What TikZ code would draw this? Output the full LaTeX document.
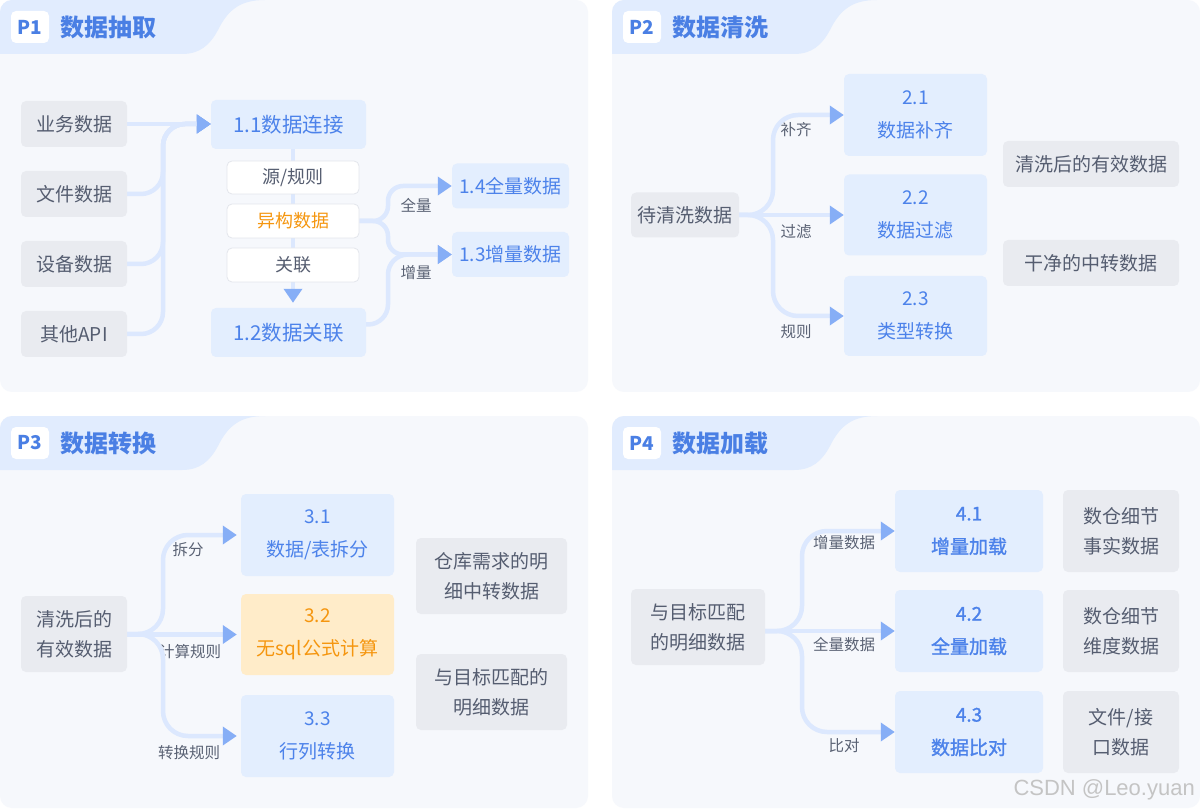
\documentclass[tikz,border=0pt]{standalone}
\usepackage{fontspec}
\setmainfont{Noto Sans CJK SC}
\newfontfamily\wmfont{Liberation Sans}
\newfontfamily\medfont[FakeBold=1.3]{Noto Sans CJK SC}
\usetikzlibrary{arrows.meta}
\definecolor{panelbg}{HTML}{F6F8FC}
\definecolor{hdrbg}{HTML}{E1ECFE}
\definecolor{titleblue}{HTML}{4A7FE4}
\definecolor{bluefill}{HTML}{E3EEFE}
\definecolor{bluetext}{HTML}{4C82EA}
\definecolor{grayfill}{HTML}{E9EBF0}
\definecolor{graytext}{HTML}{555D70}
\definecolor{labeltext}{HTML}{5A6274}
\definecolor{connc}{HTML}{DCE8FE}
\definecolor{arrowc}{HTML}{86AEF6}
\definecolor{orangefill}{HTML}{FFECC9}
\definecolor{orangetext}{HTML}{F5960F}
\definecolor{whiteborder}{HTML}{E3E6EC}
\pgfdeclarelayer{bglayer}
\pgfdeclarelayer{connlayer}
\pgfsetlayers{bglayer,connlayer,main}
\tikzset{
  box/.style={rounded corners=5pt, inner sep=0pt, align=center},
  graybox/.style={box, fill=grayfill, text=graytext, font=\fontsize{19}{30}\selectfont},
  bluebox/.style={box, fill=bluefill, text=bluetext, font=\fontsize{19}{33}\selectfont},
  bigbluebox/.style={bluebox, font=\fontsize{20.5}{33}\selectfont},
  boldbluebox/.style={bluebox, font=\medfont\fontsize{19}{33}\selectfont},
  orangebox/.style={box, fill=orangefill, text=orangetext, font=\fontsize{19}{33}\selectfont},
  whitebox/.style={box, fill=white, draw=whiteborder, line width=0.8pt, text=graytext, font=\fontsize{18}{20}\selectfont},
  lbl/.style={text=labeltext, font=\fontsize{15.5}{18}\selectfont, inner sep=0pt},
  conn/.style={draw=connc, line width=4.5pt},
  arr/.style={conn, -{Triangle[length=14pt,width=18pt,color=arrowc]}},
  hdrlabel/.style={fill=white, rounded corners=5pt, minimum width=38pt, minimum height=32pt, inner sep=0pt, text=titleblue, font=\bfseries\fontsize{19}{20}\selectfont},
  hdrtitle/.style={anchor=west, inner sep=0pt, text=titleblue, font=\bfseries\fontsize{24}{26}\selectfont},
}
\newcommand\panelhead[4]{%
  \begin{scope}[shift={(#1,#2)}]
    \begin{pgfonlayer}{bglayer}
      \fill[panelbg, rounded corners=12pt] (0,0) rectangle (588,392);
      \begin{scope}
        \clip[rounded corners=12pt] (0,0) rectangle (588,392);
        \fill[hdrbg] (0,54) -- (0,0) -- (265,0) .. controls (240,0) and (228,10) .. (218,30) .. controls (210,45) and (200,54) .. (182,54) -- cycle;
      \end{scope}
    \end{pgfonlayer}
    \node[hdrlabel] (#3box) at (30,27) {#3};
    \node[hdrtitle] (#3title) at (60,27) {#4};
  \end{scope}}
\begin{document}
\begin{tikzpicture}[x=1pt,y=-1pt]
\useasboundingbox (0,0) rectangle (1200,810);
\begin{pgfonlayer}{bglayer}
  \fill[white] (0,0) rectangle (1200,810);
\end{pgfonlayer}
\panelhead{0}{0}{P1}{数据抽取}
\panelhead{612}{0}{P2}{数据清洗}
\panelhead{0}{416}{P3}{数据转换}
\panelhead{612}{416}{P4}{数据加载}

% ---------- P1 ----------
\node[graybox, minimum width=106pt, minimum height=46pt] (ywsj) at (74,124) {业务数据};
\node[graybox, minimum width=106pt, minimum height=46pt] (wjsj) at (74,194) {文件数据};
\node[graybox, minimum width=106pt, minimum height=46pt] (sbsj) at (74,264) {设备数据};
\node[graybox, minimum width=106pt, minimum height=46pt] (qtapi) at (74,334) {其他API};
\node[bigbluebox, minimum width=155pt, minimum height=49pt] (c11) at (288.5,124.5) {1.1数据连接};
\node[whitebox, minimum width=132pt, minimum height=33pt] (yuan) at (293,177.5) {源/规则};
\node[whitebox, minimum width=132pt, minimum height=34pt, text=orangetext] (yigou) at (293,221) {异构数据};
\node[whitebox, minimum width=132pt, minimum height=34pt] (guanlian) at (293,265) {关联};
\node[bigbluebox, minimum width=155pt, minimum height=49pt] (c12) at (288.5,332.5) {1.2数据关联};
\node[bluebox, minimum width=117pt, minimum height=45pt] (c14) at (510.5,186) {1.4全量数据};
\node[bluebox, minimum width=117pt, minimum height=45pt] (c13) at (510.5,254.5) {1.3增量数据};
\coordinate (t1) at (163,0);
\coordinate (t1b) at (388,0);

% ---------- P2 ----------
\node[graybox, minimum width=108pt, minimum height=45pt] (dqx) at (685,215) {待清洗数据};
\node[bluebox, minimum width=143pt, minimum height=82pt] (c21) at (915.5,115) {2.1\\数据补齐};
\node[bluebox, minimum width=143pt, minimum height=81pt] (c22) at (915.5,215) {2.2\\数据过滤};
\node[bluebox, minimum width=143pt, minimum height=80pt] (c23) at (915.5,316) {2.3\\类型转换};
\node[graybox, minimum width=176pt, minimum height=46pt] (qxh) at (1091,164) {清洗后的有效数据};
\node[graybox, minimum width=176pt, minimum height=46pt] (gjd) at (1091,263) {干净的中转数据};
\coordinate (t2) at (773,0);

% ---------- P3 ----------
\node[graybox, minimum width=106pt, minimum height=76pt] (qxh3) at (74,634) {清洗后的\\有效数据};
\node[bluebox, minimum width=153pt, minimum height=82pt] (c31) at (317.5,535) {3.1\\数据/表拆分};
\node[orangebox, minimum width=153pt, minimum height=81pt] (c32) at (317.5,634.5) {3.2\\无sql公式计算};
\node[bluebox, minimum width=153pt, minimum height=82pt] (c33) at (317.5,736) {3.3\\行列转换};
\node[graybox, minimum width=151pt, minimum height=76pt] (ck) at (491.5,576) {仓库需求的明\\细中转数据};
\node[graybox, minimum width=151pt, minimum height=76pt] (ymb) at (491.5,692) {与目标匹配的\\明细数据};
\coordinate (t3) at (163,0);

% ---------- P4 ----------
\node[graybox, minimum width=134pt, minimum height=76pt] (ymb4) at (698,627) {与目标匹配\\的明细数据};
\node[boldbluebox, minimum width=148pt, minimum height=82pt] (c41) at (969,531) {4.1\\增量加载};
\node[boldbluebox, minimum width=148pt, minimum height=82pt] (c42) at (969,631) {4.2\\全量加载};
\node[boldbluebox, minimum width=148pt, minimum height=82pt] (c43) at (969,732) {4.3\\数据比对};
\node[graybox, minimum width=116pt, minimum height=82pt] (f1) at (1121,531) {数仓细节\\事实数据};
\node[graybox, minimum width=116pt, minimum height=82pt] (f2) at (1121,631) {数仓细节\\维度数据};
\node[graybox, minimum width=116pt, minimum height=82pt] (f3) at (1121,732) {文件/接\\口数据};
\coordinate (t4) at (802,0);

\node[font=\wmfont\fontsize{22}{24}\selectfont, text=black!23, anchor=east, inner sep=0pt] (wm) at (1195,790) {CSDN @Leo.yuan};

\begin{pgfonlayer}{connlayer}
  % labels
  \node[lbl] (lq) at (416,205) {全量};
  \node[lbl] (lz) at (416,273) {增量};
  \node[lbl] (lbq) at (796,130) {补齐};
  \node[lbl] (lgl) at (796,232) {过滤};
  \node[lbl] (lgz) at (796,332) {规则};
  \node[lbl] (lcf) at (188,550) {拆分};
  \node[lbl] (ljs) at (190,652) {计算规则};
  \node[lbl] (lzh) at (189,753) {转换规则};
  \node[lbl] (lzl) at (844,543) {增量数据};
  \node[lbl] (lql) at (844,645) {全量数据};
  \node[lbl] (lbd) at (844,746) {比对};
  % P1
  \draw[arr] (ywsj.east) -- (ywsj.east -| c11.west);
  \draw[arr, rounded corners=22pt] (wjsj.east) -- (wjsj.east -| t1) -- (ywsj.east -| t1) -- (ywsj.east -| c11.west);
  \draw[arr, rounded corners=22pt] (sbsj.east) -- (sbsj.east -| t1) -- (ywsj.east -| t1) -- (ywsj.east -| c11.west);
  \draw[arr, rounded corners=22pt] (qtapi.east) -- (qtapi.east -| t1) -- (ywsj.east -| t1) -- (ywsj.east -| c11.west);
  \draw[arr] (c11.south -| yuan.north) -- ([yshift=5pt]c12.north -| yuan.north);
  \draw[arr, rounded corners=15pt] (yigou.east) -- (yigou.east -| t1b) -- (c14.west -| t1b) -- (c14.west);
  \draw[arr, rounded corners=15pt] (yigou.east) -- (yigou.east -| t1b) -- (c13.west -| t1b) -- (c13.west);
  \draw[arr, rounded corners=20pt] ([yshift=8pt]c12.east) -- ([yshift=8pt]c12.east -| t1b) -- (c13.west -| t1b) -- (c13.west);
  % P2
  \draw[arr, rounded corners=25pt] (dqx.east) -- (dqx.east -| t2) -- (c21.west -| t2) -- (c21.west);
  \draw[arr] (dqx.east |- c22.west) -- (c22.west);
  \draw[arr, rounded corners=25pt] (dqx.east) -- (dqx.east -| t2) -- (c23.west -| t2) -- (c23.west);
  % P3
  \draw[arr, shorten >=4pt, rounded corners=25pt] (qxh3.east) -- (qxh3.east -| t3) -- (c31.west -| t3) -- (c31.west);
  \draw[arr, shorten >=4pt] (qxh3.east |- c32.west) -- (c32.west);
  \draw[arr, shorten >=4pt, rounded corners=25pt] (qxh3.east) -- (qxh3.east -| t3) -- (c33.west -| t3) -- (c33.west);
  % P4
  \draw[arr, rounded corners=25pt] (ymb4.east |- c42.west) -- (c42.west -| t4) -- (c41.west -| t4) -- (c41.west);
  \draw[arr] (ymb4.east |- c42.west) -- (c42.west);
  \draw[arr, rounded corners=25pt] (ymb4.east |- c42.west) -- (c42.west -| t4) -- (c43.west -| t4) -- (c43.west);
\end{pgfonlayer}
\end{tikzpicture}
\end{document}
